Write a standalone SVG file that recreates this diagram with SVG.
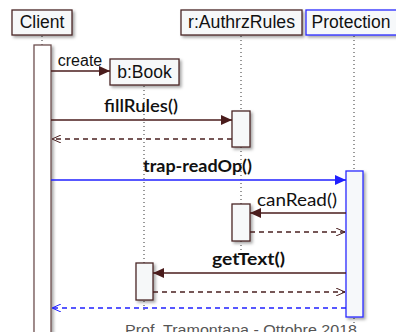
<svg xmlns="http://www.w3.org/2000/svg" width="396" height="332" viewBox="0 0 396 332">
<style>
.box{fill:#f6f8f9;stroke:#4a2626;stroke-width:1.3}
.pbox{fill:#f6f8fa;stroke:#2a2aff;stroke-width:1.3}
.nt{font-family:"Liberation Sans",Arial,sans-serif;font-size:17.5px;fill:#111;text-anchor:middle}
.lb{font-family:Lato,"Liberation Sans",sans-serif;font-size:17px;fill:#111;text-anchor:middle}
.life{stroke:#333;stroke-width:1;stroke-dasharray:1 3}
.msg{stroke:#4a1c1c;stroke-width:1.4;fill:none}
.ret{stroke:#4a2020;stroke-width:1.3;fill:none;stroke-dasharray:5 4}
.bmsg{stroke:#2020ff;stroke-width:1.4;fill:none}
.bret{stroke:#2020ff;stroke-width:1.3;fill:none;stroke-dasharray:5 4}
</style>
<defs>
<filter id="sh" x="-20%" y="-20%" width="150%" height="160%">
<feDropShadow dx="2" dy="2" stdDeviation="1.8" flood-color="#000" flood-opacity="0.35"/>
</filter>
<marker id="fa" markerWidth="12" markerHeight="10" refX="11" refY="5" orient="auto" markerUnits="userSpaceOnUse">
<path d="M0,0 L11,5 L0,10 z" fill="#4a1c1c"/>
</marker>
<marker id="fb" markerWidth="12" markerHeight="10" refX="11" refY="5" orient="auto" markerUnits="userSpaceOnUse">
<path d="M0,0 L11,5 L0,10 z" fill="#2020ff"/>
</marker>
<marker id="oa" markerWidth="10" markerHeight="8" refX="9" refY="4" orient="auto" markerUnits="userSpaceOnUse">
<path d="M0,0 L9,4 L0,8" fill="none" stroke="#4a2020" stroke-width="1"/>
</marker>
<marker id="ob" markerWidth="10" markerHeight="8" refX="9" refY="4" orient="auto" markerUnits="userSpaceOnUse">
<path d="M0,0 L9,4 L0,8" fill="none" stroke="#2020ff" stroke-width="1"/>
</marker>
</defs>
<rect width="396" height="332" fill="#fff"/>

<g id="lifelines">
<line class="life" x1="42" y1="36" x2="42" y2="45"/>
<line class="life" x1="144" y1="86" x2="144" y2="263"/>
<line class="life" x1="144" y1="301" x2="144" y2="312"/>
<line class="life" x1="241" y1="36" x2="241" y2="111"/>
<line class="life" x1="241" y1="147" x2="241" y2="204"/>
<line class="life" x1="241" y1="241" x2="241" y2="250"/>
<line class="life" x1="354" y1="36" x2="354" y2="171"/>
<line class="life" x1="354" y1="318" x2="354" y2="324"/>
</g>

<g id="client">
<rect class="box" x="12" y="10" width="60" height="25" filter="url(#sh)"/>
<text class="nt" x="42" y="28">Client</text>
<rect x="34" y="45" width="17" height="300" fill="#fff" stroke="#6e5050" stroke-width="1.3" filter="url(#sh)"/>
</g>

<g id="book">
<rect class="box" x="110" y="59" width="69" height="26" filter="url(#sh)"/>
<text class="nt" x="144.5" y="78">b:Book</text>
<rect class="box" x="136" y="263" width="17" height="37" filter="url(#sh)"/>
</g>

<g id="rules">
<rect class="box" x="181" y="10" width="121" height="25" filter="url(#sh)"/>
<text class="nt" x="241.5" y="28" textLength="107" lengthAdjust="spacingAndGlyphs">r:AuthrzRules</text>
<rect class="box" x="232" y="111" width="18" height="36" filter="url(#sh)"/>
<rect class="box" x="232" y="204" width="18" height="37" filter="url(#sh)"/>
</g>

<g id="protection">
<rect class="pbox" x="306" y="10" width="92" height="25" filter="url(#sh)"/>
<text class="nt" x="351" y="28">Protection</text>
<rect class="pbox" x="346" y="171" width="17" height="146" filter="url(#sh)"/>
</g>

<g id="connectors">
<line class="msg" x1="51" y1="71" x2="110" y2="71" marker-end="url(#fa)"/>
<text class="nt" x="80" y="66" style="font-size:16px">create</text>

<line class="msg" x1="51" y1="120" x2="232" y2="120" marker-end="url(#fa)"/>
<text class="lb" x="141" y="112" style="font-weight:600" textLength="74" lengthAdjust="spacingAndGlyphs">fillRules()</text>
<line class="ret" x1="232" y1="139" x2="52" y2="139" marker-end="url(#oa)"/>

<line class="bmsg" x1="51" y1="180" x2="346" y2="180" marker-end="url(#fb)"/>
<text class="lb" x="197.5" y="172" style="font-weight:700" textLength="109" lengthAdjust="spacingAndGlyphs">trap-readOp()</text>

<line class="msg" x1="346" y1="213" x2="250" y2="213" marker-end="url(#fa)"/>
<text class="lb" x="297" y="206" textLength="80" lengthAdjust="spacingAndGlyphs">canRead()</text>
<line class="ret" x1="250" y1="232" x2="345" y2="232" marker-end="url(#oa)"/>

<line class="msg" x1="346" y1="273" x2="153" y2="273" marker-end="url(#fa)"/>
<text class="lb" x="248.5" y="265" style="font-weight:700" textLength="73" lengthAdjust="spacingAndGlyphs">getText()</text>
<line class="ret" x1="153" y1="292" x2="345" y2="292" marker-end="url(#oa)"/>

<line class="bret" x1="346" y1="308" x2="52" y2="308" marker-end="url(#ob)"/>
</g>

<text x="241" y="335" font-family="'Liberation Sans',Arial,sans-serif" font-size="15" fill="#555" text-anchor="middle" textLength="232" lengthAdjust="spacingAndGlyphs">Prof. Tramontana - Ottobre 2018</text>
</svg>
